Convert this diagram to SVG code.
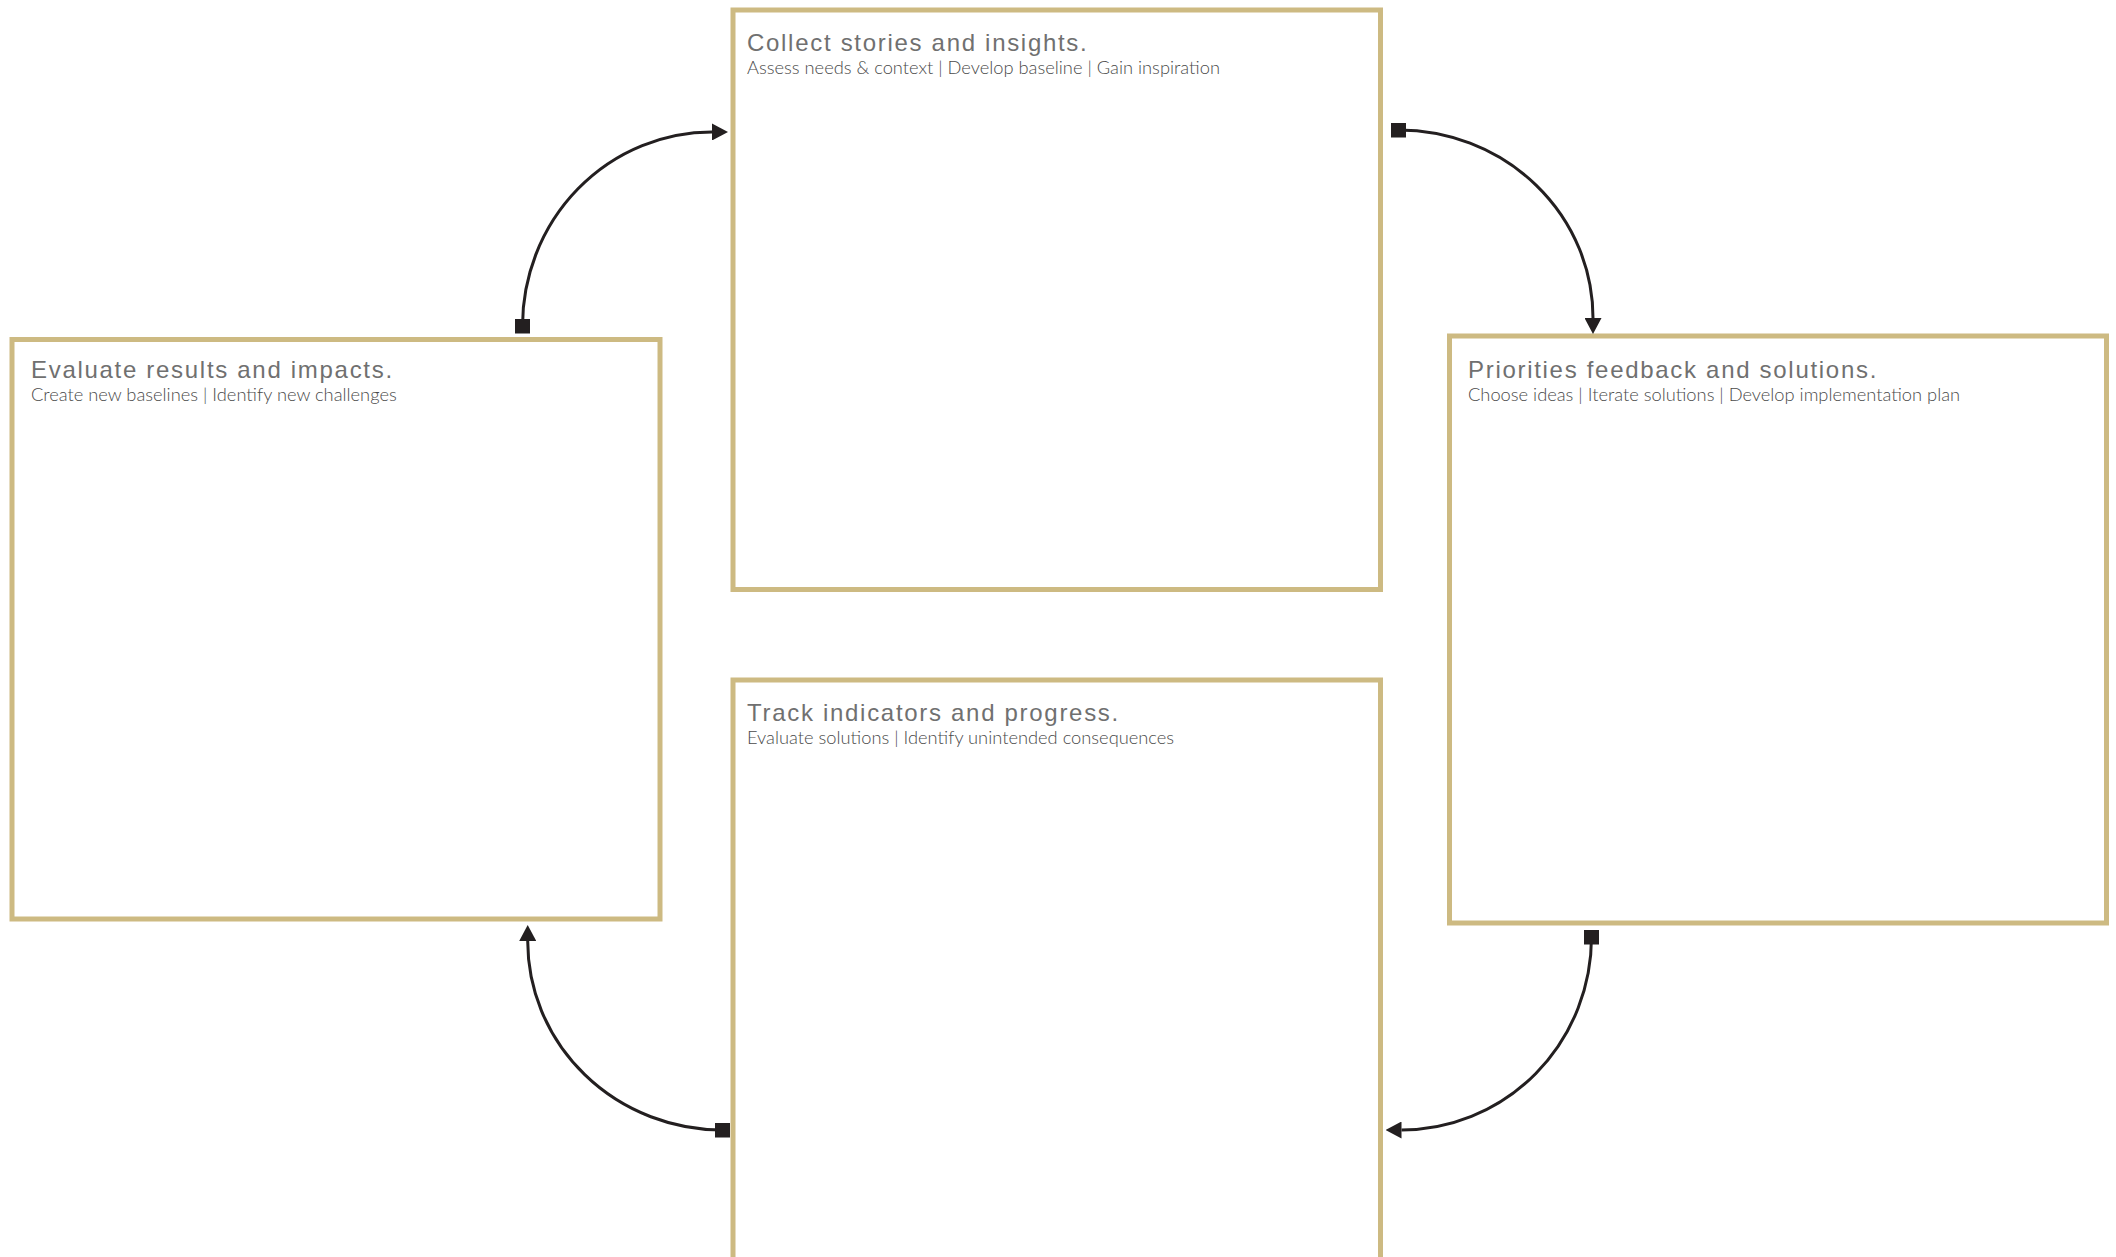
<svg xmlns="http://www.w3.org/2000/svg" width="2116" height="1257" viewBox="0 0 2116 1257">
  <style>
    .box { fill: #ffffff; stroke: #CDBA82; stroke-width: 5; }
    .title { font-family: "Liberation Sans", Arial, sans-serif; font-size: 24px; letter-spacing: 1.7px; fill: #707070; }
    .sub { font-family: Lato, "Liberation Sans", sans-serif; font-weight: 300; font-size: 18.3px; fill: #4a4a4a; }
    .conn { fill: none; stroke: #231F20; stroke-width: 3; marker-start: url(#sq); marker-end: url(#arr); }
  </style>
  <defs>
    <marker id="arr" markerUnits="userSpaceOnUse" viewBox="0 0 16 17" markerWidth="16" markerHeight="17" refX="0" refY="8.5" orient="auto">
      <path d="M0,0 L16,8.5 L0,17 z" fill="#231F20"/>
    </marker>
    <marker id="sq" markerUnits="userSpaceOnUse" viewBox="0 0 15 15" markerWidth="15" markerHeight="15" refX="7.5" refY="7.5" orient="0">
      <rect x="0" y="0" width="15" height="15" fill="#231F20"/>
    </marker>
  </defs>
  <rect width="2116" height="1257" fill="#ffffff"/>

  <g id="node-collect">
    <rect class="box" x="733" y="10" width="647.5" height="579.5"/>
    <text class="title" x="747" y="51">Collect stories and insights.</text>
    <text class="sub" x="747" y="74">Assess needs &amp; context | Develop baseline | Gain inspiration</text>
  </g>

  <g id="node-evaluate">
    <rect class="box" x="12" y="339.5" width="648" height="579.5"/>
    <text class="title" x="31" y="378">Evaluate results and impacts.</text>
    <text class="sub" x="31" y="401">Create new baselines | Identify new challenges</text>
  </g>

  <g id="node-priorities">
    <rect class="box" x="1449.5" y="336" width="657" height="587"/>
    <text class="title" x="1468" y="378">Priorities feedback and solutions.</text>
    <text class="sub" x="1468" y="401">Choose ideas | Iterate solutions | Develop implementation plan</text>
  </g>

  <g id="node-track">
    <rect class="box" x="733" y="680" width="647.5" height="580"/>
    <text class="title" x="747" y="721">Track indicators and progress.</text>
    <text class="sub" x="747" y="744">Evaluate solutions | Identify unintended consequences</text>
  </g>

  <g id="connectors">
    <path class="conn" d="M522.5,326 A189.5,194 0 0 1 712,132"/>
    <path class="conn" d="M1398.5,130 A194.5,188 0 0 1 1593,318"/>
    <path class="conn" d="M1591.5,937 A190,193 0 0 1 1401.5,1130"/>
    <path class="conn" d="M722.5,1130 A194.8,189 0 0 1 527.7,941"/>
  </g>
</svg>
